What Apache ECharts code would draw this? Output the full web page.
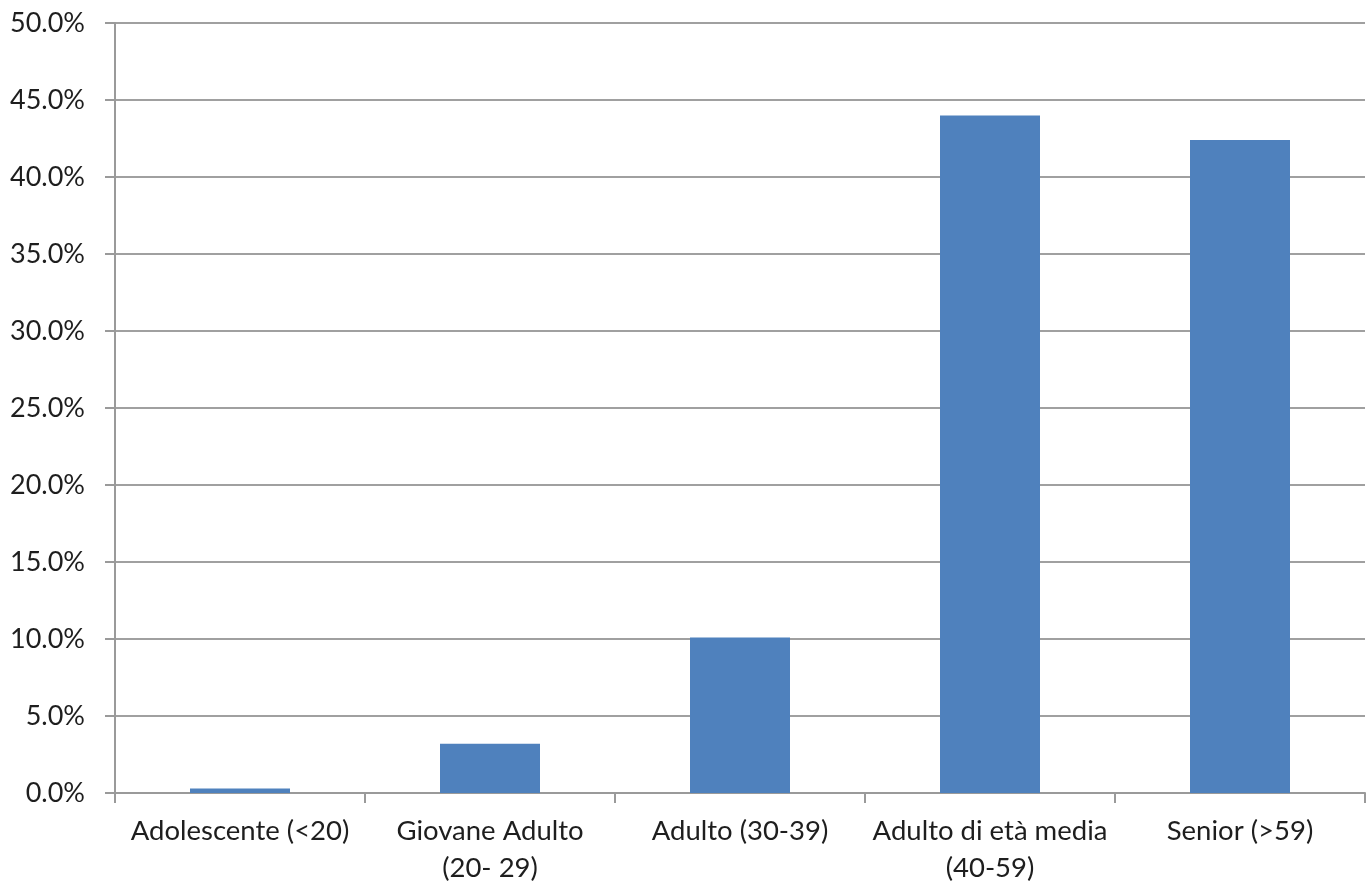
<!DOCTYPE html>
<html>
<head>
<meta charset="utf-8">
<script src="https://cdn.jsdelivr.net/npm/echarts@6/dist/echarts.min.js"></script>
<style>
html,body{margin:0;padding:0;background:#fff;}
#chart{width:1369px;height:885px;}
</style>
</head>
<body>
<div id="chart"></div>
<script>
const categories = ['Adolescente (<20)', 'Giovane Adulto\n(20- 29)', 'Adulto (30-39)', 'Adulto di età media\n(40-59)', 'Senior (>59)'];
const values = [0.3, 3.2, 10.1, 44.0, 42.4];
const yTicks = { min: 0, max: 50, interval: 5 };

const chart = echarts.init(document.getElementById('chart'));
const fontFamily = 'Lato, "Open Sans", sans-serif';
chart.setOption({
  animation: false,
  grid: { left: 115, right: 4, top: 23, bottom: 92, containLabel: false, outerBoundsMode: 'none' },
  xAxis: {
    type: 'category',
    data: categories,
    axisLine: { lineStyle: { color: '#9a9a9a', width: 2 } },
    axisTick: { show: true, length: 10, lineStyle: { color: '#9a9a9a', width: 2 } },
    axisLabel: { color: '#1e1e1e', fontSize: 27.5, fontFamily: fontFamily, margin: 20, lineHeight: 37, interval: 0 }
  },
  yAxis: {
    type: 'value',
    min: yTicks.min, max: yTicks.max, interval: yTicks.interval,
    axisLine: { show: true, lineStyle: { color: '#9a9a9a', width: 2 } },
    axisTick: { show: true, length: 10, lineStyle: { color: '#9a9a9a', width: 2 } },
    splitLine: { lineStyle: { color: '#a0a0a0', width: 2 } },
    axisLabel: { color: '#1e1e1e', fontSize: 27, fontFamily: fontFamily, margin: 30,
      formatter: v => v.toFixed(1) + '%' }
  },
  series: [{
    type: 'bar',
    data: values,
    barWidth: '40%',
    itemStyle: { color: '#4F81BD' }
  }]
});
</script>
</body>
</html>
